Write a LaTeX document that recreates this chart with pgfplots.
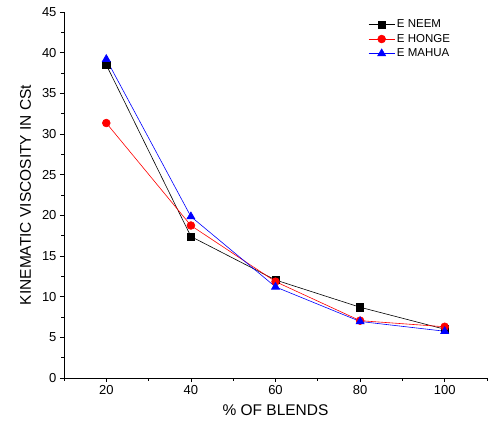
\documentclass[border=0pt]{standalone}
\usepackage{pgfplots}
\pgfplotsset{compat=1.18}
\usepackage{fontspec}
\setmainfont{Liberation Sans}
\begin{document}
\begin{tikzpicture}[x=1pt,y=1pt]
\useasboundingbox (-64,-51) rectangle (427,378);
\begin{axis}[
  at={(0,0)}, anchor=south west,
  scale only axis, width=423pt, height=366pt,
  xmin=10, xmax=110, ymin=0, ymax=45,
  axis x line*=bottom, axis y line*=left,
  axis line style={line width=0.8pt},
  xtick={20,40,60,80,100}, minor xtick={10,30,50,70,90,110},
  ytick={0,5,...,45}, minor ytick={2.5,7.5,...,42.5},
  tick align=outside, tick style={black, line width=0.7pt},
  major tick length=4pt, minor tick length=2.5pt,
  /pgf/number format/assume math mode=true,
  tick label style={font=\fontsize{13}{15}\selectfont},
  label style={font=\fontsize{15.5}{18}\selectfont},
  xlabel={\% OF BLENDS}, ylabel={KINEMATIC VISCOSITY IN CSt},
  xlabel style={yshift=-3pt}, ylabel style={yshift=4pt},
  legend style={draw=none, fill=none, at={(0.712,0.99)}, anchor=north west,
    font=\fontsize{11.5}{13}\selectfont, row sep=1pt},
  legend cell align=left,
  legend image code/.code={\draw[mark repeat=2,mark phase=2] plot coordinates {(0pt,0pt) (13pt,0pt) (26pt,0pt)};},
]
\addplot[black, mark=square*, mark size=3.6pt, line width=0.6pt] coordinates {(20,38.5) (40,17.4) (60,12.05) (80,8.7) (100,6.0)};
\addlegendentry{E NEEM}
\addplot[red, mark=*, mark size=3.9pt, line width=0.6pt] coordinates {(20,31.35) (40,18.75) (60,11.85) (80,7.05) (100,6.3)};
\addlegendentry{E HONGE}
\addplot[blue, mark=triangle*, mark size=4.6pt, line width=0.6pt] coordinates {(20,39.2) (40,19.85) (60,11.2) (80,6.95) (100,5.75)};
\addlegendentry{E MAHUA}
\end{axis}
\end{tikzpicture}
\end{document}
